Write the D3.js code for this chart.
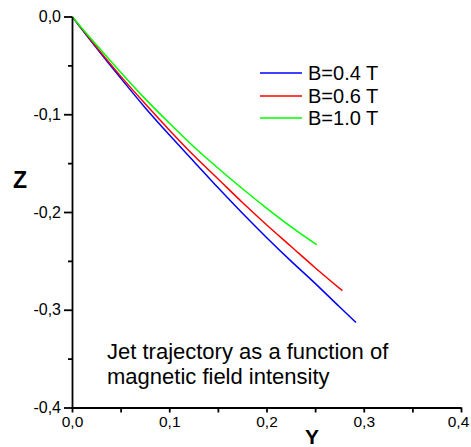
<!DOCTYPE html>
<html>
<head>
<meta charset="utf-8">
<script src="https://cdn.jsdelivr.net/npm/d3@7"></script>
<style>
  body { margin: 0; background: #fff; }
  text { font-family: "Liberation Sans", Arial, sans-serif; }
</style>
</head>
<body>
<svg width="471" height="447"></svg>
<script>
// data (Y, Z)
var seriesNames = ["B=0.4 T", "B=0.6 T", "B=1.0 T"];
var seriesColors = ["#0000ff", "#ff0000", "#00ff00"];

var yB04 = [0, 0.025, 0.05, 0.075, 0.1, 0.125, 0.15, 0.175, 0.2, 0.225, 0.25, 0.275, 0.292];
var zB04 = [0, -0.032, -0.063, -0.093, -0.121, -0.148, -0.175, -0.201, -0.226, -0.250, -0.273, -0.297, -0.313];

var yB06 = [0, 0.025, 0.05, 0.075, 0.1, 0.125, 0.15, 0.175, 0.2, 0.225, 0.25, 0.278];
var zB06 = [0, -0.031, -0.061, -0.089, -0.116, -0.142, -0.166, -0.190, -0.213, -0.235, -0.257, -0.2805];

var yB10 = [0, 0.025, 0.05, 0.075, 0.1, 0.125, 0.15, 0.175, 0.2, 0.225, 0.2516];
var zB10 = [0, -0.029, -0.057, -0.084, -0.109, -0.133, -0.155, -0.176, -0.196, -0.215, -0.2335];

var xTicks = [0, 0.1, 0.2, 0.3, 0.4];
var xTickLabels = ["0,0", "0,1", "0,2", "0,3", "0,4"];
var zTicks = [0, -0.1, -0.2, -0.3, -0.4];
var zTickLabels = ["0,0", "-0,1", "-0,2", "-0,3", "-0,4"];
var note = ["Jet trajectory as a function of", "magnetic field intensity"];

var svg = d3.select("svg");

var x = d3.scaleLinear().domain([0, 0.4]).range([72, 461]);
var y = d3.scaleLinear().domain([0, -0.4]).range([16.5, 407.5]);

var series = [
    { name: seriesNames[0], color: seriesColors[0], pts: d3.zip(yB04, zB04) },
    { name: seriesNames[1], color: seriesColors[1], pts: d3.zip(yB06, zB06) },
    { name: seriesNames[2], color: seriesColors[2], pts: d3.zip(yB10, zB10) }
];

var line = d3.line()
    .x(function (d) { return x(d[0]); })
    .y(function (d) { return y(d[1]); })
    .curve(d3.curveMonotoneX);

svg.append("g").selectAll("path")
    .data(series)
    .enter().append("path")
    .attr("d", function (d) { return line(d.pts); })
    .attr("fill", "none")
    .attr("stroke", function (d) { return d.color; })
    .attr("stroke-width", 1.5);

// minor ticks (halves)
var xMinor = [0.05, 0.15, 0.25, 0.35];
var zMinor = [-0.05, -0.15, -0.25, -0.35];

var xAxis = svg.append("g").attr("transform", "translate(0," + y(-0.4) + ")");
xAxis.call(d3.axisBottom(x).tickValues(xMinor).tickSize(5).tickFormat(""));
xAxis.call(function (g) { g.select(".domain").remove(); });
var xMajor = svg.append("g").attr("transform", "translate(0," + y(-0.4) + ")")
    .call(d3.axisBottom(x).tickValues(xTicks).tickSize(5).tickSizeOuter(0)
        .tickFormat(function (d, i) { return xTickLabels[i]; }));
xMajor.selectAll("text").attr("font-size", 15.5).attr("fill", "#000")
    .attr("y", 8).attr("dy", "0.71em")
    .attr("dx", function (d, i) { return i === xTicks.length - 1 ? -3 : 0; })   // last one sits at the edge
    .style("font-family", "'Liberation Sans', Arial, sans-serif");

var yAxis = svg.append("g").attr("transform", "translate(" + x(0) + ",0)");
yAxis.call(d3.axisLeft(y).tickValues(zMinor).tickSize(4).tickFormat(""));
yAxis.call(function (g) { g.select(".domain").remove(); });
var yMajor = svg.append("g").attr("transform", "translate(" + x(0) + ",0)")
    .call(d3.axisLeft(y).tickValues(zTicks).tickSize(8).tickSizeOuter(0)
        .tickFormat(function (d, i) { return zTickLabels[i]; }));
yMajor.selectAll("text").attr("font-size", 16).attr("fill", "#000")
    .attr("x", -11)
    .style("font-family", "'Liberation Sans', Arial, sans-serif");

svg.selectAll(".domain, .tick line").attr("stroke", "#000").attr("stroke-width", 1.8);

// axis titles
svg.append("text")
    .attr("x", 20).attr("y", 188)
    .attr("text-anchor", "middle")
    .attr("font-size", 23).attr("font-weight", "bold")
    .text("Z");
svg.append("text")
    .attr("x", 312).attr("y", 444)
    .attr("text-anchor", "middle")
    .attr("font-size", 21).attr("font-weight", "bold")
    .text("Y");

// legend
var legend = svg.append("g").selectAll("g")
    .data(series)
    .enter().append("g")
    .attr("transform", function (d, i) { return "translate(260," + Math.round(73 + i * 22.5) + ")"; });
legend.append("line")
    .attr("x1", 0).attr("x2", 42)
    .attr("stroke", function (d) { return d.color; })
    .attr("stroke-width", 1.5);
legend.append("text")
    .attr("x", 48).attr("dy", "0.36em")
    .attr("font-size", 20)
    .text(function (d) { return d.name; });

// note text
svg.append("g").selectAll("text")
    .data(note)
    .enter().append("text")
    .attr("x", 107)
    .attr("y", function (d, i) { return 359 + i * 25; })
    .attr("font-size", 22)
    .text(function (d) { return d; });
</script>
</body>
</html>
